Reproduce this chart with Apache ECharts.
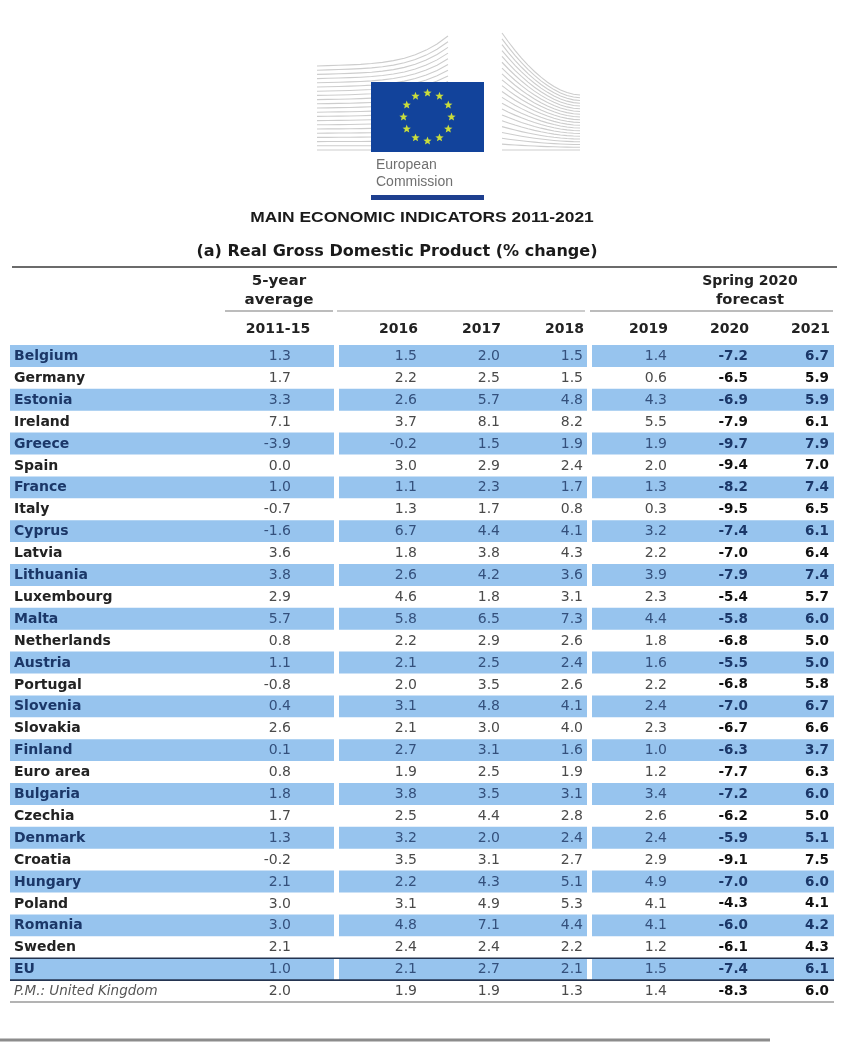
<!DOCTYPE html>
<html><head><meta charset="utf-8">
<script src="https://cdn.jsdelivr.net/npm/echarts@6/dist/echarts.min.js"></script>
<style>html,body{margin:0;padding:0;background:#fff}#c{width:854px;height:1043px}</style>
</head><body><div id="c"></div>
<script>
// ---------- DATA ----------
const countries = ['Belgium','Germany','Estonia','Ireland','Greece','Spain','France','Italy','Cyprus','Latvia',
  'Lithuania','Luxembourg','Malta','Netherlands','Austria','Portugal','Slovenia','Slovakia','Finland','Euro area',
  'Bulgaria','Czechia','Denmark','Croatia','Hungary','Poland','Romania','Sweden','EU','P.M.: United Kingdom'];
const avg2011_15 = [1.3,1.7,3.3,7.1,-3.9,0.0,1.0,-0.7,-1.6,3.6,3.8,2.9,5.7,0.8,1.1,-0.8,0.4,2.6,0.1,0.8,1.8,1.7,1.3,-0.2,2.1,3.0,3.0,2.1,1.0,2.0];
const y2016 = [1.5,2.2,2.6,3.7,-0.2,3.0,1.1,1.3,6.7,1.8,2.6,4.6,5.8,2.2,2.1,2.0,3.1,2.1,2.7,1.9,3.8,2.5,3.2,3.5,2.2,3.1,4.8,2.4,2.1,1.9];
const y2017 = [2.0,2.5,5.7,8.1,1.5,2.9,2.3,1.7,4.4,3.8,4.2,1.8,6.5,2.9,2.5,3.5,4.8,3.0,3.1,2.5,3.5,4.4,2.0,3.1,4.3,4.9,7.1,2.4,2.7,1.9];
const y2018 = [1.5,1.5,4.8,8.2,1.9,2.4,1.7,0.8,4.1,4.3,3.6,3.1,7.3,2.6,2.4,2.6,4.1,4.0,1.6,1.9,3.1,2.8,2.4,2.7,5.1,5.3,4.4,2.2,2.1,1.3];
const y2019 = [1.4,0.6,4.3,5.5,1.9,2.0,1.3,0.3,3.2,2.2,3.9,2.3,4.4,1.8,1.6,2.2,2.4,2.3,1.0,1.2,3.4,2.6,2.4,2.9,4.9,4.1,4.1,1.2,1.5,1.4];
const f2020 = [-7.2,-6.5,-6.9,-7.9,-9.7,-9.4,-8.2,-9.5,-7.4,-7.0,-7.9,-5.4,-5.8,-6.8,-5.5,-6.8,-7.0,-6.7,-6.3,-7.7,-7.2,-6.2,-5.9,-9.1,-7.0,-4.3,-6.0,-6.1,-7.4,-8.3];
const f2021 = [6.7,5.9,5.9,6.1,7.9,7.0,7.4,6.5,6.1,6.4,7.4,5.7,6.0,5.0,5.0,5.8,6.7,6.6,3.7,6.3,6.0,5.0,5.1,7.5,6.0,4.1,4.2,4.3,6.1,6.0];
const columnLabels = ['2011-15','2016','2017','2018','2019','2020','2021'];
const groupLabelAvg = ['5-year','average'];
const groupLabelForecast = ['Spring 2020','forecast'];
const titleText = 'MAIN ECONOMIC INDICATORS 2011-2021';
const subtitleText = '(a) Real Gross Domestic Product (% change)';
const logoText = ['European','Commission'];

// ---------- LAYOUT / STYLE ----------
const columns = [avg2011_15, y2016, y2017, y2018, y2019, f2020, f2021];
const colRight = [281, 407, 490, 573, 657, 738, 819];   // x-axis units
const bands = [[0, 324], [329, 577], [582, 824]];
const BLUE = '#97c4ee';
const NAVY = '#1b3768';
const FONT = "'DejaVu Sans', sans-serif";
const EU_IDX = 28, UK_IDX = 29;

const chart = echarts.init(document.getElementById('c'), null, {renderer: 'canvas'});

function renderRow(params, api) {
  const i = params.dataIndex;
  const h = api.size([0, 1])[1];
  const cy = api.coord([0, i])[1];
  const top = cy - h / 2;
  const X = v => api.coord([v, i])[0];
  const blue = i % 2 === 0;
  const ch = [];
  if (blue) {
    bands.forEach(b => ch.push({type: 'rect', shape: {x: X(b[0]), y: top, width: X(b[1]) - X(b[0]), height: h}, style: {fill: BLUE}}));
  }
  const isUK = i === UK_IDX;
  ch.push({type: 'text', style: {
    text: countries[i], x: X(4), y: cy + 0.5, align: 'left', verticalAlign: 'middle',
    textAlign: 'left', textVerticalAlign: 'middle',
    font: (isUK ? 'italic 13.5px ' : 'bold 14px ') + FONT,
    fill: isUK ? '#555' : (blue ? NAVY : '#222')
  }});
  columns.forEach((col, c) => {
    const bold = c >= 5;
    ch.push({type: 'text', style: {
      text: col[i].toFixed(1), x: X(colRight[c]), y: cy + 0.5, align: 'right', verticalAlign: 'middle',
      textAlign: 'right', textVerticalAlign: 'middle',
      font: (bold ? 'bold 13.5px ' : '14px ') + FONT,
      fill: bold ? (blue ? NAVY : '#111') : (blue ? '#34507c' : '#4a4a4a')
    }});
  });
  if (i === EU_IDX) {
    ch.push({type: 'line', shape: {x1: X(0), y1: top, x2: X(824), y2: top}, style: {stroke: '#243450', lineWidth: 1.6}});
    ch.push({type: 'line', shape: {x1: X(0), y1: top + h, x2: X(824), y2: top + h}, style: {stroke: '#243450', lineWidth: 1.6}});
  }
  if (i === UK_IDX) {
    ch.push({type: 'line', shape: {x1: X(0), y1: top + h, x2: X(824), y2: top + h}, style: {stroke: '#9a9a9a', lineWidth: 1.6}});
  }
  return {type: 'group', children: ch};
}

chart.setOption({
  animation: false,
  backgroundColor: '#fff',
  grid: {left: 10, right: 18, top: 345, bottom: 41},
  xAxis: {type: 'value', min: 0, max: 826, show: false},
  yAxis: {type: 'category', data: countries, inverse: true, show: false},
  series: [{
    type: 'custom', clip: false,
    data: countries.map((c, i) => [0, i]),
    encode: {x: 0, y: 1},
    renderItem: renderRow
  }]
});

// ---------- header / logo graphics ----------
const px = v => chart.convertToPixel({xAxisIndex: 0}, v);
const g = [];
function txt(t, x, y, font, fill, align, sx) {
  g.push({type: 'text', x: x, y: y, scaleX: sx || 1, style: {text: t, font: font, fill: fill, align: align, verticalAlign: 'middle', textAlign: align, textVerticalAlign: 'middle'}, silent: true});
}
function ln(x1, y1, x2, y2, stroke, w) {
  g.push({type: 'line', shape: {x1, y1, x2, y2}, style: {stroke, lineWidth: w}, silent: true});
}
// building left wing
for (let k = 0; k <= 20; k++) {
  const t = k / 20;
  const y0 = 66 + 84 * t;
  const pts = [];
  for (let s = 0; s <= 12; s++) {
    const u = s / 12;
    const x = 317 + 131 * u;
    const lift = (1 - t) * (4 * u + 26 * Math.pow(u, 4));
    pts.push([x, y0 - lift]);
  }
  g.push({type: 'polyline', shape: {points: pts}, style: {stroke: '#cdcdcd', lineWidth: 1.1, fill: null}, silent: true});
}
// building right wing
for (let k = 0; k <= 20; k++) {
  const t = k / 20;
  const pts = [];
  for (let s = 0; s <= 12; s++) {
    const u = s / 12;
    const x = 502 + 78 * u;
    const ytop = 33 + 62 * (1 - Math.pow(1 - u, 1.8));
    pts.push([x, ytop + (150 - ytop) * t]);
  }
  g.push({type: 'polyline', shape: {points: pts}, style: {stroke: '#cdcdcd', lineWidth: 1.1, fill: null}, silent: true});
}
// flag
g.push({type: 'rect', shape: {x: 371, y: 82, width: 113, height: 70}, style: {fill: '#12439b'}, silent: true});
function starPts(cx, cy, R, r) {
  const p = [];
  for (let k = 0; k < 10; k++) {
    const a = -Math.PI / 2 + k * Math.PI / 5;
    const rr = k % 2 === 0 ? R : r;
    p.push([cx + rr * Math.cos(a), cy + rr * Math.sin(a)]);
  }
  return p;
}
for (let k = 0; k < 12; k++) {
  const a = k * Math.PI / 6;
  g.push({type: 'polygon', shape: {points: starPts(427.5 + 24 * Math.sin(a), 117 - 24 * Math.cos(a), 4.4, 1.9)}, style: {fill: '#c9dd3c'}, silent: true});
}
txt(logoText[0], 376, 165, "14px 'Liberation Sans', sans-serif", '#707070', 'left');
txt(logoText[1], 376, 182, "14px 'Liberation Sans', sans-serif", '#707070', 'left');
g.push({type: 'rect', shape: {x: 371, y: 195, width: 113, height: 5}, style: {fill: '#1e3f8f'}, silent: true});
// titles
txt(titleText, 422, 218, "bold 14.5px 'Liberation Sans', sans-serif", '#1a1a1a', 'center', 1.2);
txt(subtitleText, 397, 252, 'bold 15px ' + FONT, '#1a1a1a', 'center', 1.07);
// header rules
ln(12, 267, 837, 267, '#3a3a3a', 1.5);
ln(225, 311, 333, 311, '#7a7a7a', 1.2);
ln(337, 311, 585, 311, '#9a9a9a', 1.2);
ln(590, 311, 833, 311, '#7a7a7a', 1.2);
// group headers
const avgCenter = px(269);
const fcCenter = px(740);
txt(groupLabelAvg[0], avgCenter, 281, 'bold 14px ' + FONT, '#222', 'center', 1.08);
txt(groupLabelAvg[1], avgCenter, 300, 'bold 14px ' + FONT, '#222', 'center', 1.08);
txt(groupLabelForecast[0], fcCenter, 281, 'bold 14px ' + FONT, '#222', 'center');
txt(groupLabelForecast[1], fcCenter, 300, 'bold 14px ' + FONT, '#222', 'center', 1.05);
// column headers
columnLabels.forEach((lab, c) => {
  if (c === 0) txt(lab, px(268), 329, 'bold 14px ' + FONT, '#222', 'center');
  else txt(lab, px(colRight[c]) + 1, 329, 'bold 14px ' + FONT, '#222', 'right');
});
// footer bar
ln(0, 1040, 770, 1040, '#8c8c8c', 3);

chart.setOption({graphic: {elements: g}});
</script></body></html>
